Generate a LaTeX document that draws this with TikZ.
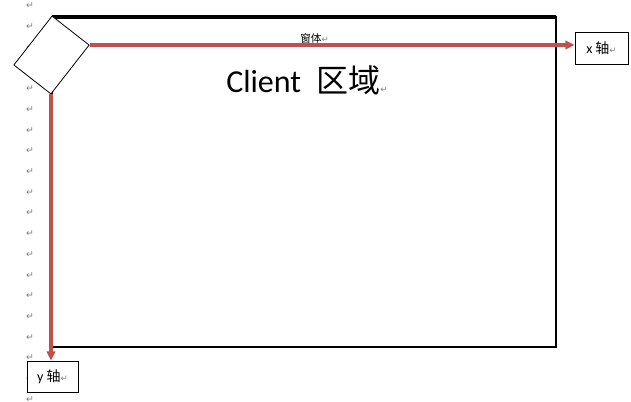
\documentclass[tikz,border=0pt]{standalone}
\usepackage{fontspec}
\setmainfont{Carlito}
\newfontfamily\cjk{Noto Sans CJK SC}
\newfontfamily\symfont{DejaVu Sans}
\usetikzlibrary{arrows.meta,positioning,calc}
\definecolor{axisred}{HTML}{C0504D}
\definecolor{markgray}{HTML}{7F7F7F}
\newcommand{\pmark}{{\symfont\fontsize{6.5}{6.5}\selectfont\color{markgray}↵}}
\tikzset{
 pmark/.style={inner sep=0pt,font=\symfont\fontsize{7}{7}\selectfont,text=markgray},
 winedge/.style={draw=black,line width=1.6pt},
 cornerbox/.style={draw=black,fill=white,line width=0.6pt,inner sep=0pt,
   minimum width=35.25pt,minimum height=46.5pt,rotate=-38},
 axisbox/.style={draw=black,fill=white,line width=0.6pt,inner sep=0pt,
   font=\fontsize{10.5}{12}\selectfont},
 axis/.style={-{Triangle[length=7pt,width=6.5pt]},line width=2.5pt,draw=axisred}
}
\begin{document}
\begin{tikzpicture}[x=0.75pt,y=-0.75pt]
 \useasboundingbox (0,0) rectangle (631,401);
 \foreach \k in {0,...,19}
  \node[pmark] (pm\k) at (30,6+20.7*\k) {↵};
 \draw[winedge] (52,17) rectangle (556,347);
 \draw[winedge,line width=2.4pt] (52,17) -- (556,17);
 \node[cornerbox] (corner) at (51.5,55) {};
 \node[font=\cjk\fontsize{8}{9}\selectfont,anchor=base west,inner sep=0pt] (title) at (300,42) {窗体\pmark};
 \node[font=\fontsize{24}{28}\selectfont,anchor=base west,inner sep=0pt] (client) at (226,92) {Client\hspace{6pt} {\cjk 区域}\pmark};
 \node[axisbox,minimum width=39.75pt,minimum height=24pt] (xaxis) at (601.5,48) {x {\cjk 轴}\pmark};
 \node[axisbox,minimum width=38.25pt,minimum height=23.25pt] (yaxis) at (52.5,376.5) {y {\cjk 轴}\pmark};
 \draw[axis] (corner.north east) -- (corner.north east -| xaxis.west);
 \draw[axis] (corner.south east) -- (corner.south east |- yaxis.north);
\end{tikzpicture}
\end{document}
